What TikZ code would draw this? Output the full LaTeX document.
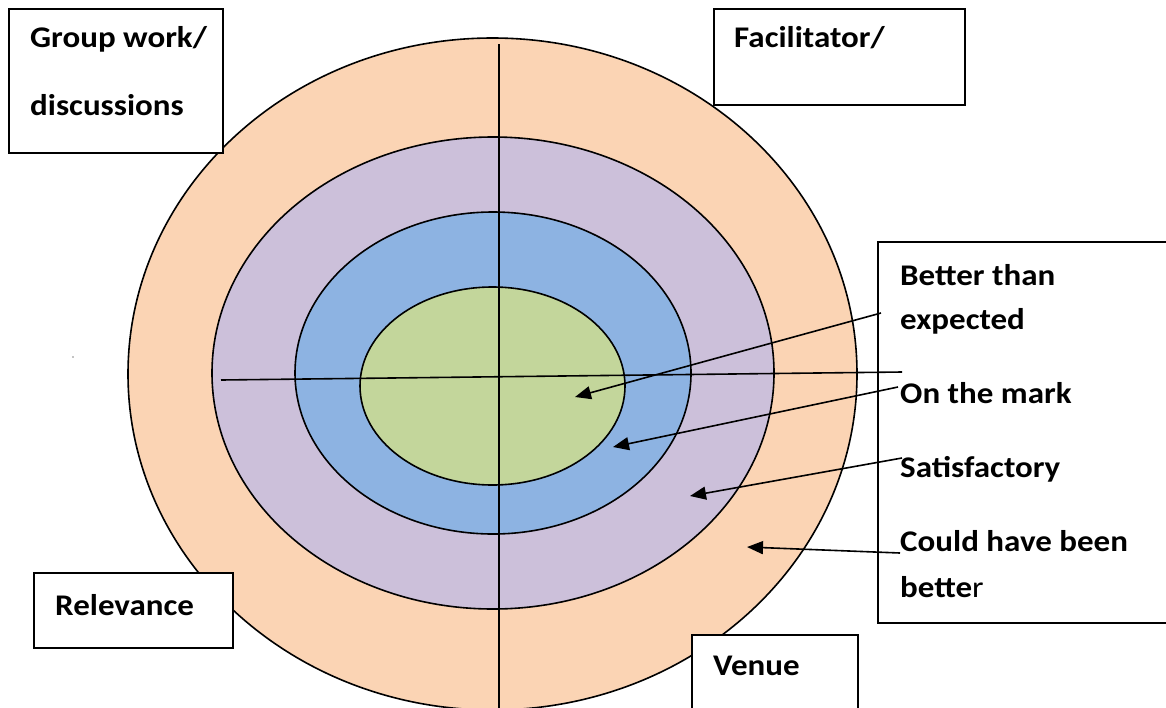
\documentclass[tikz,border=0pt]{standalone}
\usepackage{fontspec}
\setmainfont{Carlito}
\usetikzlibrary{arrows.meta}
\definecolor{ringpeach}{HTML}{FBD4B4}
\definecolor{ringlilac}{HTML}{CCC0DA}
\definecolor{ringblue}{HTML}{8DB3E2}
\definecolor{ringgreen}{HTML}{C3D69B}
\newcommand{\lbltxt}[1]{\scalebox{1.1}[1]{#1}}
\begin{document}
\begin{tikzpicture}[x=1pt,y=-1pt,
  ring/.style={draw=black, line width=1.6pt},
  axis/.style={draw=black, line width=1.6pt},
  box/.style={draw=black, line width=1.8pt, rectangle, inner sep=0pt, anchor=north west},
  lab/.style={anchor=base west, inner sep=0pt, font=\fontsize{30}{36}\selectfont\bfseries},
  pointer/.style={-{Triangle[length=16pt,width=13pt]}, line width=1.6pt}]
\useasboundingbox (0,0) rectangle (1166,707);
% rings
\path[ring, fill=ringpeach] (492.5,374) ellipse [x radius=364.5pt, y radius=336pt];
\path[ring, fill=ringlilac] (493,373) ellipse [x radius=281pt, y radius=236pt];
\path[ring, fill=ringblue] (493,373) ellipse [x radius=198pt, y radius=161pt];
\path[ring, fill=ringgreen] (492.5,386) ellipse [x radius=132.5pt, y radius=99pt];
% right box (no fill, lines pass over it)
\node[box, minimum width=300pt, minimum height=381pt] (rbox) at (877,241) {};
% axes
\coordinate (vtop) at (499,44);
\coordinate (vbot) at (499,710);
\coordinate (hl) at (221,380);
\coordinate (hr) at (902,372);
\draw[axis] (vtop) -- (vbot);
\draw[axis] (hl) -- (hr);
% boxes
\node[box, fill=white, minimum width=214pt, minimum height=144pt] (gw) at (8,8) {};
\node[box, fill=white, minimum width=251pt, minimum height=96pt] (fac) at (713,8) {};
\node[box, fill=white, minimum width=199pt, minimum height=75pt] (rel) at (33,572) {};
\node[box, fill=white, minimum width=166pt, minimum height=90pt] (ven) at (691,634) {};
% labels
\node[lab] (t1) at (30,47) {\lbltxt{Group work/}};
\node[lab] (t2) at (30,115) {\lbltxt{discussions}};
\node[lab] (t3) at (734,47) {\lbltxt{Facilitator/}};
\node[lab] (t4) at (55,615) {\lbltxt{Relevance}};
\node[lab] (t5) at (713,675) {\lbltxt{Venue}};
\node[lab] (b1) at (900,285) {\lbltxt{Better than}};
\node[lab] (b2) at (900,329) {\lbltxt{expected}};
\node[lab] (b3) at (900,403) {\lbltxt{On the mark}};
\node[lab] (b4) at (900,477) {\lbltxt{Satisfactory}};
\node[lab] (b5) at (900,551) {\lbltxt{Could have been}};
\node[lab] (b6) at (900,597) {\lbltxt{bette\mdseries r}};
% pointers
\coordinate (s1) at (881,313);
\coordinate (e1) at (575,397);
\coordinate (s2) at (898,387);
\coordinate (e2) at (613,447);
\coordinate (s3) at (902,458);
\coordinate (e3) at (690,496);
\coordinate (s4) at (900,553);
\coordinate (e4) at (747,547);
\draw[pointer] (s1) -- (e1);
\draw[pointer] (s2) -- (e2);
\draw[pointer] (s3) -- (e3);
\draw[pointer] (s4) -- (e4);
% tiny speck
\coordinate (speck) at (73,357);
\fill[black] (speck) circle [radius=0.6pt];
\end{tikzpicture}
\end{document}
